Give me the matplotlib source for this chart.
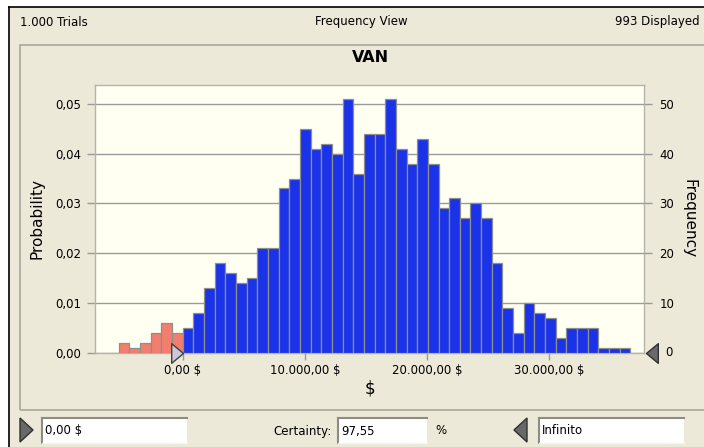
import numpy as np
import matplotlib
matplotlib.use("Agg")
import matplotlib.pyplot as plt
from matplotlib.patches import Rectangle, Polygon
from matplotlib.markers import MarkerStyle
from matplotlib.path import Path
from matplotlib.ticker import FuncFormatter

# histogram (frequency per bin, 1000 trials)
COUNTS = [2, 1, 2, 4, 6, 4,
          5, 8, 13, 18, 16, 14, 15, 21, 21, 33, 35, 45, 41, 42, 40, 51,
          36, 44, 44, 51, 41, 38, 43, 38, 29, 31, 27, 30, 27, 18, 9, 4,
          10, 8, 7, 3, 5, 5, 5, 1, 1, 1]
BIN_START = -5240.0
BIN_WIDTH = 873.0
TRIALS = 1000
LOWER_CUT = 0.0
X_TICKS = [0, 10000, 20000, 30000]
PROB_TICKS = [0.0, 0.01, 0.02, 0.03, 0.04, 0.05]
FREQ_TICKS = [10, 20, 30, 40, 50]

BG = "#ECE9D8"
PLOT_BG = "#FFFFF2"
BLUE = "#1B33E8"
RED = "#F47E6E"
GRID = "#9A9A9A"

W, H = 704, 447
plt.rcParams["font.family"] = ["DejaVu Sans"]

fig = plt.figure(figsize=(W / 100, H / 100), dpi=100, facecolor=BG)


def px(x0, y0, x1, y1):
    # pixel box (top-left origin) -> figure fraction rect
    return [x0 / W, 1 - y1 / H, (x1 - x0) / W, (y1 - y0) / H]


def frect(x0, y0, x1, y1, **kw):
    r = px(x0, y0, x1, y1)
    fig.patches.append(Rectangle((r[0], r[1]), r[2], r[3],
                                 transform=fig.transFigure, **kw))


def fy(y):
    return 1 - y / H


# window frame
frect(0, 0, W, 7, facecolor="white", edgecolor="none")
frect(0, 0, 9, H, facecolor="white", edgecolor="none")
fig.add_artist(plt.Line2D([9 / W, 9 / W], [0, fy(7)], color="black", lw=1.2))
fig.add_artist(plt.Line2D([9 / W, 1], [fy(7), fy(7)], color="black", lw=1.2))
# panel
frect(20, 45, W + 5, 410, facecolor="none", edgecolor="#A8A89C", lw=1.2)

fig.text(20 / W, fy(22), "1.000 Trials", fontsize=8.5, va="center")
fig.text(361 / W, fy(22), "Frequency View", fontsize=8.5, va="center", ha="center")
fig.text(700 / W, fy(22), "993 Displayed", fontsize=8.5, va="center", ha="right")
fig.text(370 / W, fy(58), "VAN", fontsize=11.5, fontweight="bold", va="center", ha="center")

ax = fig.add_axes(px(95, 85, 644, 352.7))
ax.set_facecolor(PLOT_BG)
ax.set_zorder(2)

counts = np.array(COUNTS)
lefts = BIN_START + BIN_WIDTH * np.arange(len(counts))
colors = [RED if l + BIN_WIDTH / 2 < LOWER_CUT else BLUE for l in lefts]
ax.bar(lefts, counts / TRIALS, width=BIN_WIDTH, align="edge", color=colors,
       edgecolor="#8E8E8E", linewidth=0.9, zorder=3)

ax.set_xlim(-7183, 37780)
ax.set_ylim(0, 0.0538)
ax.set_yticks(PROB_TICKS)
ax.yaxis.set_major_formatter(FuncFormatter(lambda v, p: f"{v:.2f}".replace(".", ",")))


def money(v, p=None):
    s = f"{v:,.2f}".replace(",", "X").replace(".", ",").replace("X", ".")
    return s + " $"


ax.set_xticks(X_TICKS)
ax.xaxis.set_major_formatter(FuncFormatter(money))
ax.grid(axis="y", color=GRID, lw=1.0, zorder=1)
ax.set_axisbelow(True)
for s in ax.spines.values():
    s.set_color("#B4B4AA")
    s.set_linewidth(1.0)
ax.tick_params(axis="y", length=6, width=1, color=GRID, labelsize=8.5, pad=4)
ax.tick_params(axis="x", length=5, width=1, color=GRID, labelsize=8.5, pad=3)
ax.set_ylabel("Probability", fontsize=11, labelpad=8)
ax.set_xlabel("$", fontsize=12, labelpad=2)

ax2 = ax.twinx()
ax2.set_ylim(0, 0.0538 * TRIALS)
ax2.set_yticks(FREQ_TICKS)
ax2.tick_params(axis="y", length=6, width=1, color=GRID, labelsize=8.5, pad=5)
for s in ax2.spines.values():
    s.set_visible(False)
ax2.set_ylabel("Frequency", fontsize=11, rotation=270, labelpad=16)
ax2.annotate("0", xy=(1, 0), xycoords=("axes fraction", "data"),
             xytext=(15, 0), textcoords="offset points", fontsize=8.5,
             va="center", ha="left", annotation_clip=False)

# certainty grabbers
tri_r = MarkerStyle(Path([(-1.2, 1), (0, 0), (-1.2, -1), (-1.2, 1)],
                         [Path.MOVETO, Path.LINETO, Path.LINETO, Path.CLOSEPOLY]))
tri_l = MarkerStyle(Path([(1.2, 1), (0, 0), (1.2, -1), (1.2, 1)],
                         [Path.MOVETO, Path.LINETO, Path.LINETO, Path.CLOSEPOLY]))
ax.plot([LOWER_CUT], [0], marker=tri_r, ms=17, mfc="#C9C9DC", mec="#404040",
        mew=1.0, clip_on=False, zorder=6)
ax.plot([1.004], [0], marker=tri_l, transform=ax.transAxes, ms=17, mfc="#6A6A6A",
        mec="#303030", mew=1.0, clip_on=False, zorder=6)


# bottom controls
def textbox(x0, x1, txt):
    frect(x0, 418, x1, 443, facecolor="white", edgecolor="none")
    fig.add_artist(plt.Line2D([x0 / W, x1 / W], [fy(418), fy(418)], color="#8C8C84", lw=1.5))
    fig.add_artist(plt.Line2D([x0 / W, x0 / W], [fy(418), fy(443)], color="#8C8C84", lw=1.5))
    fig.add_artist(plt.Line2D([x0 / W, x1 / W], [fy(443), fy(443)], color="#F4F4F0", lw=1))
    fig.text((x0 + 3) / W, fy(431), txt, fontsize=8.5, va="center")


def ftri(x0, x1, right):
    tip, back = (x1, x0) if right else (x0, x1)
    pts = [(back / W, fy(418)), (tip / W, fy(430)), (back / W, fy(442))]
    fig.patches.append(Polygon(pts, closed=True, transform=fig.transFigure,
                               facecolor="#686868", edgecolor="#303030", lw=1))


ftri(20, 33, True)
textbox(42, 187, money(LOWER_CUT))
fig.text(332 / W, fy(431), "Certainty:", fontsize=8.5, va="center", ha="right")
textbox(338, 427, "97,55")
fig.text(435 / W, fy(431), "%", fontsize=8.5, va="center")
ftri(514, 527, False)
textbox(539, 684, "Infinito")

fig.savefig("out.png", dpi=100, facecolor=BG)
